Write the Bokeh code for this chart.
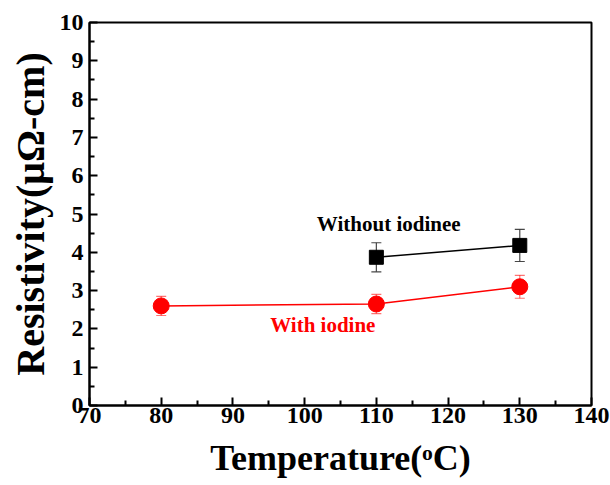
from bokeh.plotting import figure
from bokeh.models import ColumnDataSource, FixedTicker
from bokeh.core.properties import value
from bokeh.embed import file_html
from bokeh.resources import INLINE

# data
temp_with = [80, 110, 130]
res_with = [2.6, 2.65, 3.1]
err_with = [0.25, 0.25, 0.3]

temp_without = [110, 130]
res_without = [3.87, 4.18]
err_without = [0.38, 0.42]

x_ticks = [70, 80, 90, 100, 110, 120, 130, 140]
y_ticks = [0, 1, 2, 3, 4, 5, 6, 7, 8, 9, 10]

FONT = "Liberation Serif"

p = figure(width=610, height=485, output_backend="svg", toolbar_location=None,
           x_range=(70, 140), y_range=(0, 10),
           min_border_left=89, min_border_right=19, min_border_top=22, min_border_bottom=80)
p.grid.visible = False
p.outline_line_color = "black"
p.outline_line_width = 2

src_w = ColumnDataSource(dict(x=temp_with, y=res_with,
                              lo=[a - b for a, b in zip(res_with, err_with)],
                              hi=[a + b for a, b in zip(res_with, err_with)]))
src_wo = ColumnDataSource(dict(x=temp_without, y=res_without,
                               lo=[a - b for a, b in zip(res_without, err_without)],
                               hi=[a + b for a, b in zip(res_without, err_without)]))

for src, col, alpha in [(src_w, "#ff0000", 0.55), (src_wo, "#333333", 0.9)]:
    p.segment(x0="x", y0="lo", x1="x", y1="hi", source=src, line_color=col, line_alpha=alpha, line_width=1.2)
    p.scatter("x", "hi", source=src, marker="dash", size=10, line_color=col, line_alpha=alpha, line_width=1.2)
    p.scatter("x", "lo", source=src, marker="dash", size=10, line_color=col, line_alpha=alpha, line_width=1.2)

p.line("x", "y", source=src_w, line_color="#ff0000", line_width=1.5)
p.scatter("x", "y", source=src_w, marker="circle", size=16, fill_color="#ff0000", line_color="#ff0000")
p.line("x", "y", source=src_wo, line_color="black", line_width=1.5)
p.scatter("x", "y", source=src_wo, marker="square", size=14, fill_color="black", line_color="black")

p.text(x=[101.7], y=[4.73], text=["Without iodinee"], text_font=value(FONT), text_font_style="bold",
       text_font_size="21px", text_color="black", text_baseline="middle")
p.text(x=[95.2], y=[2.09], text=["With iodine"], text_font=value(FONT), text_font_style="bold",
       text_font_size="21px", text_color="#ff0000", text_baseline="middle")

p.xaxis.ticker = FixedTicker(ticks=x_ticks, minor_ticks=[75, 85, 95, 105, 115, 125, 135])
p.yaxis.ticker = FixedTicker(ticks=y_ticks, minor_ticks=[i + 0.5 for i in range(10)])

for ax in [p.xaxis[0], p.yaxis[0]]:
    ax.axis_line_width = 2
    ax.major_tick_in = 8
    ax.major_tick_out = 0
    ax.minor_tick_in = 5
    ax.minor_tick_out = 0
    ax.major_tick_line_width = 2
    ax.minor_tick_line_width = 2
    ax.major_label_text_font = FONT
    ax.major_label_text_font_style = "bold"
    ax.major_label_text_font_size = "24px"
    ax.major_label_text_color = "black"
    ax.axis_label_text_font = FONT
    ax.axis_label_text_font_style = "bold"
    ax.axis_label_text_color = "black"

p.xaxis.axis_label = "Temperature(ᵒC)"
p.xaxis.axis_label_text_font_size = "36px"
p.xaxis.axis_label_standoff = 12
p.xaxis.major_label_standoff = 2
p.yaxis.axis_label = "Resistivity(μΩ-cm)"
p.yaxis.axis_label_text_font_size = "40px"
p.yaxis.axis_label_standoff = 4
p.yaxis.major_label_standoff = 6

open("out.html", "w").write(file_html(p, INLINE))
